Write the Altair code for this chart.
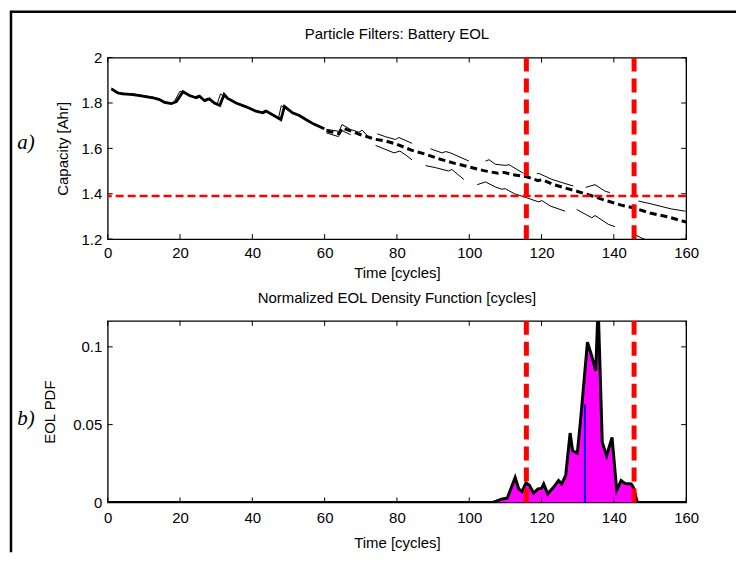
import altair as alt
import pandas as pd

# ---------------- data ----------------
# top panel: filtered capacity estimate (thick solid), cycles 1..60
est_cycle = [1.0, 2.8, 4.2, 7.0, 9.7, 12.5, 14.3, 15.7, 17.6, 19.0, 20.8, 22.6, 24.5, 25.4, 26.8,
             28.1, 29.5, 31.0, 32.2, 33.2, 35.5, 38.3, 41.0, 42.9, 43.8, 47.9, 48.9, 51.1, 53.0,
             54.8, 57.0, 59.9]
est_cap = [1.862, 1.844, 1.840, 1.837, 1.830, 1.823, 1.815, 1.803, 1.797, 1.806, 1.850, 1.833,
           1.823, 1.830, 1.810, 1.818, 1.800, 1.789, 1.838, 1.820, 1.800, 1.783, 1.764, 1.757,
           1.764, 1.727, 1.785, 1.757, 1.745, 1.727, 1.707, 1.686]

# thin particle trajectories (segments)
thin_seg = ([0] * 32 +
            [1] * 7 + [2] * 5 + [3] * 5 + [4] * 6 + [5] * 5 + [6] * 4 + [7] * 4 +
            [8] * 4 + [9] * 5 + [10] * 5 + [11] * 11 + [12] * 5 + [13] * 3)
thin_cycle = ([1.0, 2.8, 4.2, 7.0, 9.7, 12.5, 14.3, 15.7, 17.6, 18.2, 20.0, 22.0, 24.0, 25.0,
               26.4, 27.7, 29.0, 30.2, 31.2, 32.6, 35.0, 38.0, 40.7, 42.6, 43.5, 47.2, 48.0,
               50.6, 52.6, 54.5, 57.0, 59.9] +
              [60.5, 64.0, 64.8, 67.2, 69.5, 70.4, 71.8] +
              [74.6, 76.9, 79.6, 80.5, 84.2] +
              [89.3, 92.5, 93.5, 94.8, 99.9] +
              [104.5, 105.5, 107.2, 110.0, 111.0, 115.0] +
              [118.7, 119.2, 122.9, 126.5, 128.8] +
              [132.2, 134.8, 137.6, 138.9] +
              [146.8, 150.4, 155.9, 159.8] +
              [60.5, 63.8, 64.8, 67.2] +
              [74.1, 79.2, 80.8, 82.5, 84.2] +
              [87.9, 90.7, 94.3, 95.2, 98.5] +
              [102.2, 104.5, 107.2, 109.0, 110.0, 112.5, 115.8, 119.2, 120.1, 122.4, 126.5] +
              [129.7, 133.9, 134.8, 138.5, 140.3] +
              [145.8, 147.5, 149.8])
thin_cap = ([1.866, 1.848, 1.843, 1.840, 1.833, 1.826, 1.818, 1.806, 1.800, 1.800, 1.852, 1.836,
             1.826, 1.833, 1.813, 1.821, 1.803, 1.792, 1.840, 1.823, 1.803, 1.786, 1.767, 1.760,
             1.767, 1.730, 1.788, 1.760, 1.748, 1.730, 1.710, 1.689] +
            [1.684, 1.675, 1.705, 1.683, 1.671, 1.680, 1.656] +
            [1.664, 1.651, 1.639, 1.648, 1.622] +
            [1.598, 1.580, 1.586, 1.580, 1.544] +
            [1.544, 1.550, 1.530, 1.525, 1.528, 1.490] +
            [1.488, 1.490, 1.463, 1.445, 1.434] +
            [1.428, 1.440, 1.411, 1.405] +
            [1.368, 1.355, 1.333, 1.323] +
            [1.668, 1.652, 1.678, 1.660] +
            [1.613, 1.580, 1.588, 1.570, 1.549] +
            [1.524, 1.515, 1.500, 1.507, 1.463] +
            [1.440, 1.452, 1.430, 1.420, 1.422, 1.400, 1.383, 1.364, 1.370, 1.346, 1.323] +
            [1.331, 1.294, 1.304, 1.265, 1.255] +
            [1.220, 1.206, 1.190])

# mean prediction (thick dashed), cycles 60..160
mean_cycle = [60.5, 64.0, 64.9, 70.0, 74.0, 77.0, 80.0, 84.0, 88.0, 92.0, 96.0, 100.0, 104.0,
              108.0, 109.6, 112.0, 115.8, 119.0, 120.2, 123.0, 126.0, 130.0, 134.0, 138.0,
              142.0, 145.6, 150.0, 155.0, 160.0]
mean_cap = [1.677, 1.665, 1.690, 1.660, 1.640, 1.632, 1.618, 1.592, 1.574, 1.552, 1.534, 1.518,
            1.502, 1.490, 1.494, 1.484, 1.475, 1.458, 1.462, 1.442, 1.428, 1.410, 1.390, 1.369,
            1.350, 1.337, 1.315, 1.298, 1.275]

eol_threshold = [1.39]
eol_bounds = [115.8, 145.6]
eol_median = [132.0]
eol_median_top = [0.063]

# bottom panel: normalized EOL density
pdf_cycle = [0.0, 106.5, 107.5, 109.1, 110.5, 112.7, 113.7, 114.6, 115.7, 116.6, 117.8, 119.0,
             120.0, 120.6, 121.7, 123.3, 124.7, 125.6, 126.7, 127.9, 128.6, 129.9, 130.9, 132.7,
             133.9, 135.0, 135.65, 136.8, 138.0, 139.5, 140.8, 142.0, 143.1, 144.8, 145.4,
             146.5, 160.0]
pdf_value = [0.0, 0.0, 0.0008, 0.0022, 0.0027, 0.016, 0.0087, 0.0069, 0.0125, 0.0112, 0.006,
             0.0087, 0.009, 0.0119, 0.0055, 0.0097, 0.014, 0.0119, 0.0176, 0.0446, 0.0332,
             0.0317, 0.0555, 0.103, 0.094, 0.0846, 0.127, 0.0386, 0.030, 0.0418, 0.0078, 0.014,
             0.0122, 0.0119, 0.0097, 0.0, 0.0]

x_ticks = [0, 20, 40, 60, 80, 100, 120, 140, 160]
top_y_ticks = [1.2, 1.4, 1.6, 1.8, 2.0]
bot_y_ticks = [0, 0.05, 0.1]

top_title = ["Particle Filters: Battery EOL"]
bot_title = ["Normalized EOL Density Function [cycles]"]
panel_tags = ["a)", "b)"]

# ---------------- chart ----------------
W, H = 580, 182
FONT = "Liberation Sans"
xs = alt.Scale(domain=[0, 160], nice=False, zero=False)
ys_top = alt.Scale(domain=[1.2, 2.0], nice=False, zero=False)
ys_bot = alt.Scale(domain=[0, 0.1167], nice=False, zero=True)

df_est = pd.DataFrame({"x": est_cycle, "y": est_cap})
df_thin = pd.DataFrame({"x": thin_cycle, "y": thin_cap, "seg": thin_seg})
df_mean = pd.DataFrame({"x": mean_cycle, "y": mean_cap})
df_thr = pd.DataFrame({"y": eol_threshold})
df_bounds = pd.DataFrame({"x": eol_bounds})
df_xt = pd.DataFrame({"x": x_ticks})
df_yt_top = pd.DataFrame({"y": top_y_ticks})
df_yt_bot = pd.DataFrame({"y": bot_y_ticks})
df_pdf = pd.DataFrame({"x": pdf_cycle, "y": pdf_value})
df_med = pd.DataFrame({"x": eol_median, "y": eol_median_top, "y0": [0.0]})
one = pd.DataFrame({"k": [0]})


def xaxis(lpad, tpad):
    return alt.Axis(values=x_ticks, format="d", title="Time [cycles]", grid=False, ticks=False,
                    domain=False, labelFlush=False, labelPadding=lpad, titlePadding=tpad,
                    labelFontSize=15, titleFontSize=15, labelFont=FONT, titleFont=FONT,
                    titleFontWeight="normal", labelColor="black", titleColor="black")


def yaxis(vals, title, tpad):
    return alt.Axis(values=vals, format="~g", title=title, grid=False, ticks=False, domain=False,
                    labelFlush=False, labelPadding=6, titlePadding=tpad, labelFontSize=15,
                    titleFontSize=15, labelFont=FONT, titleFont=FONT, titleFontWeight="normal",
                    labelColor="black", titleColor="black")


def tick_layers(df_y, yscale):
    b = alt.Chart(df_xt).mark_rule(color="black", strokeWidth=1).encode(
        x=alt.X("x:Q", scale=xs), y=alt.value(H), y2=alt.value(H - 5))
    t = alt.Chart(df_xt).mark_rule(color="black", strokeWidth=1).encode(
        x=alt.X("x:Q", scale=xs), y=alt.value(0), y2=alt.value(5))
    l = alt.Chart(df_y).mark_rule(color="black", strokeWidth=1).encode(
        y=alt.Y("y:Q", scale=yscale), x=alt.value(0), x2=alt.value(5))
    r = alt.Chart(df_y).mark_rule(color="black", strokeWidth=1).encode(
        y=alt.Y("y:Q", scale=yscale), x=alt.value(W), x2=alt.value(W - 5))
    return [b, t, l, r]


est_line = alt.Chart(df_est).mark_line(color="black", strokeWidth=2.8, clip=True).encode(
    x=alt.X("x:Q", scale=xs, axis=xaxis(6, 5)),
    y=alt.Y("y:Q", scale=ys_top, axis=yaxis(top_y_ticks, "Capacity [Ahr]", 10)))
thin_lines = alt.Chart(df_thin).mark_line(color="black", strokeWidth=1, clip=True).encode(
    x=alt.X("x:Q", scale=xs), y=alt.Y("y:Q", scale=ys_top), detail="seg:N")
mean_line = alt.Chart(df_mean).mark_line(color="black", strokeWidth=3, strokeDash=[7, 4],
                                         clip=True).encode(
    x=alt.X("x:Q", scale=xs), y=alt.Y("y:Q", scale=ys_top))
thr_rule = alt.Chart(df_thr).mark_rule(color="#ff0000", strokeWidth=2.5, strokeDash=[8, 4]).encode(
    y=alt.Y("y:Q", scale=ys_top))
bnd_top = alt.Chart(df_bounds).mark_rule(color="#ff0000", strokeWidth=5, strokeDash=[14, 7]).encode(
    x=alt.X("x:Q", scale=xs))

border_left = alt.Chart(one).mark_rule(color="black", strokeWidth=2.5).encode(
    x=alt.value(-97), y=alt.value(-47), y2=alt.value(496))
border_top = alt.Chart(one).mark_rule(color="black", strokeWidth=2.5).encode(
    y=alt.value(-46), x=alt.value(-98), x2=alt.value(630))

title_top = alt.Chart(pd.DataFrame({"t": top_title})).mark_text(
    font=FONT, fontSize=15, color="black", baseline="middle", align="center").encode(
    text="t:N", x=alt.value(W / 2), y=alt.value(-24))
tag_a = alt.Chart(pd.DataFrame({"t": panel_tags[:1]})).mark_text(
    font="Liberation Serif", fontSize=21, fontStyle="italic", color="black",
    baseline="middle", align="center").encode(text="t:N", x=alt.value(-82), y=alt.value(86))

top = alt.layer(est_line, thin_lines, mean_line, thr_rule, bnd_top,
                *tick_layers(df_yt_top, ys_top), border_left, border_top, title_top, tag_a
                ).properties(width=W, height=H)

pdf_area = alt.Chart(df_pdf).mark_area(color="#ff00ff", clip=True).encode(
    x=alt.X("x:Q", scale=xs, axis=xaxis(8, 10)),
    y=alt.Y("y:Q", scale=ys_bot, axis=yaxis(bot_y_ticks, "EOL PDF", 15)))
med_rule = alt.Chart(df_med).mark_rule(color="#0000ff", strokeWidth=2).encode(
    x=alt.X("x:Q", scale=xs), y=alt.Y("y:Q", scale=ys_bot), y2="y0:Q")
pdf_line = alt.Chart(df_pdf).mark_line(color="black", strokeWidth=3, clip=True).encode(
    x=alt.X("x:Q", scale=xs), y=alt.Y("y:Q", scale=ys_bot))
bnd_bot = alt.Chart(df_bounds).mark_rule(color="#ff0000", strokeWidth=5, strokeDash=[14, 7]).encode(
    x=alt.X("x:Q", scale=xs))
title_bot = alt.Chart(pd.DataFrame({"t": bot_title})).mark_text(
    font=FONT, fontSize=15, color="black", baseline="middle", align="center").encode(
    text="t:N", x=alt.value(W / 2), y=alt.value(-23))
tag_b = alt.Chart(pd.DataFrame({"t": panel_tags[1:]})).mark_text(
    font="Liberation Serif", fontSize=21, fontStyle="italic", color="black",
    baseline="middle", align="center").encode(text="t:N", x=alt.value(-82), y=alt.value(98))

bottom = alt.layer(pdf_area, med_rule, pdf_line, bnd_bot, *tick_layers(df_yt_bot, ys_bot),
                   title_bot, tag_b).properties(width=W, height=H)

chart = alt.vconcat(top, bottom, spacing=82, bounds="flush").properties(
    padding={"left": 0, "top": 0, "right": 0, "bottom": 0},
    background="white",
).configure_view(stroke="black", strokeWidth=1.3).configure_axis(
    labelFont=FONT, titleFont=FONT)

chart.save("out.html", embed_options={"renderer": "svg", "actions": False})
